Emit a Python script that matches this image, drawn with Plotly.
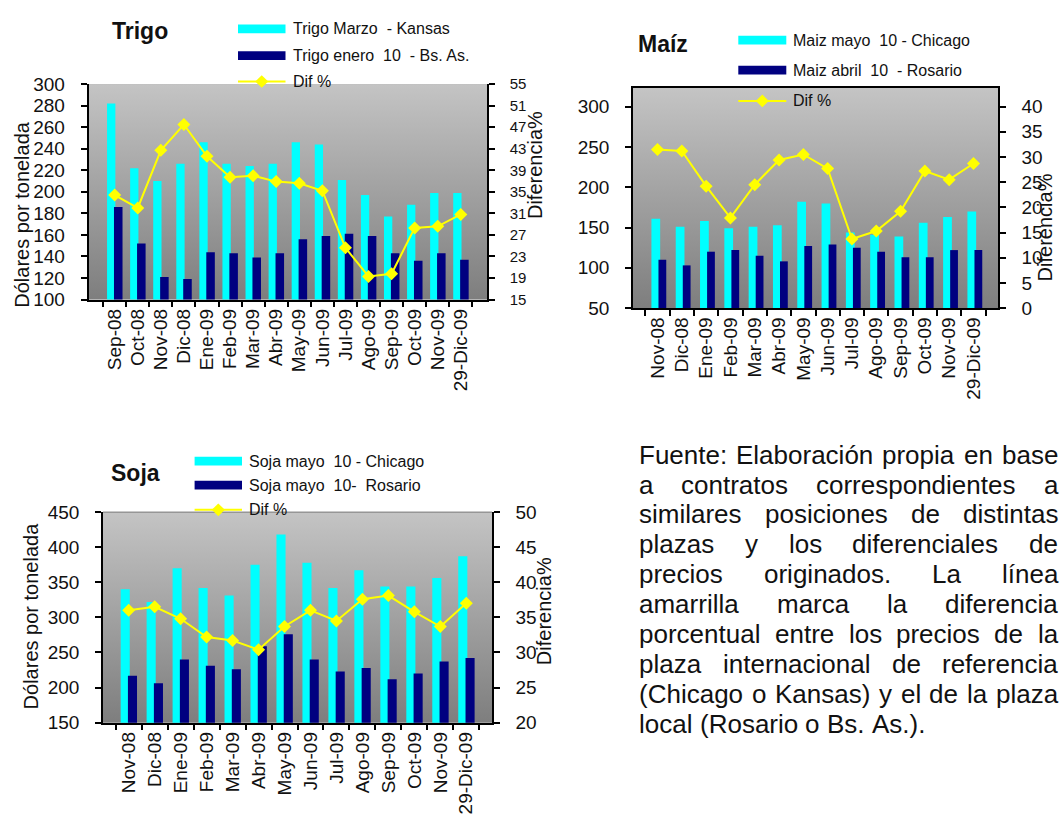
import base64
import plotly.graph_objects as go

# ---------------- data ----------------
meses_trigo = ["Sep-08", "Oct-08", "Nov-08", "Dic-08", "Ene-09", "Feb-09", "Mar-09", "Abr-09",
               "May-09", "Jun-09", "Jul-09", "Ago-09", "Sep-09", "Oct-09", "Nov-09", "29-Dic-09"]
trigo_kansas = [282, 222, 210, 226, 246, 226, 224, 226, 246, 244, 211, 197, 177, 188, 199, 199]
trigo_bsas = [186, 152, 121, 119, 144, 143, 139, 143, 156, 159, 161, 159, 143, 136, 143, 137]
trigo_dif = [34.4, 32.0, 42.7, 47.5, 41.6, 37.7, 38.0, 36.9, 36.6, 35.2, 24.6, 19.3, 19.8, 28.3, 28.6, 30.8]

meses_maiz = ["Nov-08", "Dic-08", "Ene-09", "Feb-09", "Mar-09", "Abr-09", "May-09", "Jun-09",
              "Jul-09", "Ago-09", "Sep-09", "Oct-09", "Nov-09", "29-Dic-09"]
maiz_chicago = [161, 151, 158, 149, 151, 153, 182, 180, 144, 141, 139, 156, 163, 170]
maiz_rosario = [110, 103, 120, 122, 115, 108, 127, 129, 125, 120, 113, 113, 122, 122]
maiz_dif = [31.5, 31.2, 24.2, 17.9, 24.5, 29.4, 30.5, 27.7, 13.7, 15.3, 19.2, 27.2, 25.5, 28.7]

meses_soja = ["Nov-08", "Dic-08", "Ene-09", "Feb-09", "Mar-09", "Abr-09", "May-09", "Jun-09",
              "Jul-09", "Ago-09", "Sep-09", "Oct-09", "Nov-09", "29-Dic-09"]
soja_chicago = [340, 322, 370, 342, 331, 375, 418, 378, 342, 367, 344, 344, 356, 387]
soja_rosario = [217, 206, 240, 231, 226, 259, 276, 240, 223, 228, 212, 220, 237, 242]
soja_dif = [36.0, 36.5, 34.8, 32.2, 31.7, 30.4, 33.7, 36.0, 34.5, 37.6, 38.1, 35.8, 33.7, 37.0]

nombres_trigo = ["Trigo Marzo\u00a0\u00a0- Kansas", "Trigo enero\u00a0\u00a010\u00a0\u00a0- Bs. As.", "Dif %"]
nombres_maiz = ["Maiz mayo\u00a0\u00a010 - Chicago", "Maiz abril\u00a0\u00a010\u00a0\u00a0- Rosario", "Dif %"]
nombres_soja = ["Soja mayo\u00a0\u00a010 - Chicago", "Soja mayo\u00a0\u00a010-\u00a0\u00a0Rosario", "Dif %"]

texto_lineas = [
    "Fuente: Elaboración propia en base",
    "a contratos correspondientes a",
    "similares posiciones de distintas",
    "plazas y los diferenciales de",
    "precios originados. La línea",
    "amarrilla marca la diferencia",
    "porcentual entre los precios de la",
    "plaza internacional de referencia",
    "(Chicago o Kansas) y el de la plaza",
    "local (Rosario o Bs. As.).",
]

# ---------------- helpers ----------------
W, H = 1061, 838
FONT = "Liberation Sans, Arial, sans-serif"
CYAN, NAVY, YEL = "#00FFFF", "#000080", "#FFFF00"
TXT = "#111111"


def px(x):
    return x / W


def py(y):
    return 1 - y / H


svg = ('<svg xmlns="http://www.w3.org/2000/svg" width="10" height="100" viewBox="0 0 10 100" '
       'preserveAspectRatio="none"><defs><linearGradient id="g" x1="0" y1="0" x2="0" y2="1">'
       '<stop offset="0" stop-color="#c4c4c4"/><stop offset="1" stop-color="#7e7e7e"/>'
       '</linearGradient></defs><rect width="10" height="100" fill="url(#g)"/></svg>')
GRAD = "data:image/svg+xml;base64," + base64.b64encode(svg.encode()).decode()

panels = [
    dict(cats=meses_trigo, a=trigo_kansas, b=trigo_bsas, d=trigo_dif, names=nombres_trigo,
         xa="x", ya="y", ya2="y2", xo="x4", yo="y7", yo2="y8", box=(88.5, 487, 76, 297),
         r1=[100, 300], d1=20, r2=[15, 55], d2=4, f2=15,
         off=(-0.33, 0.36, -0.03, 0.37), mirror=False, topline=None,
         title=("Trigo", 139.5, 22), leg=(238, 285.5, 291, [19.3, 46.7, 73.3]),
         ytl=("Dólares por tonelada", 22, 210), ytr=("Diferencia%", 535, 159)),
    dict(cats=meses_maiz, a=maiz_chicago, b=maiz_rosario, d=maiz_dif, names=nombres_maiz,
         xa="x2", ya="y3", ya2="y4", xo="x5", yo="y9", yo2="y10", box=(633, 998, 80, 305.7),
         r1=[50, 323.4], d1=50, r2=[0, 43.7], d2=5, f2=19,
         off=(-0.25, 0.36, 0.04, 0.32), mirror=True, topline=None,
         title=("Maíz", 662.7, 35), leg=(738.3, 786.3, 790.7, [31, 61.7, 93.3]),
         ytl=None, ytr=("Diferencia%", 1045, 223)),
    dict(cats=meses_soja, a=soja_chicago, b=soja_rosario, d=soja_dif, names=nombres_soja,
         xa="x3", ya="y5", ya2="y6", xo="x6", yo="y11", yo2="y12", box=(103, 492, 515, 731),
         r1=[150, 450], d1=50, r2=[20, 50], d2=5, f2=19,
         off=(-0.31, 0.35, -0.03, 0.35), mirror=False, topline="#7a7a7a",
         title=("Soja", 135.7, 475), leg=(194.6, 242, 247, [462.7, 487.3, 512.7]),
         ytl=("Dólares por tonelada", 31, 622), ytr=("Diferencia%", 543.6, 617)),
]

fig = go.Figure()
layout = dict(width=W, height=H, margin=dict(l=0, r=0, t=0, b=0), autosize=False,
              paper_bgcolor="white", plot_bgcolor="#a0a0a0", showlegend=False,
              barmode="overlay", font=dict(family=FONT, color=TXT))
images, shapes, annotations = [], [], []


def axname(ref):
    return ("xaxis" if ref[0] == "x" else "yaxis") + ref[1:]


TK = dict(ticklen=6, tickcolor="black", tickwidth=1.5)

for p in panels:
    o1, w1, o2, w2 = p["off"]
    fig.add_trace(go.Bar(x=p["cats"], y=p["a"], name=p["names"][0], marker=dict(color=CYAN, line=dict(width=0)),
                         offset=o1, width=w1, xaxis=p["xa"], yaxis=p["ya"]))
    fig.add_trace(go.Bar(x=p["cats"], y=p["b"], name=p["names"][1], marker=dict(color=NAVY, line=dict(width=0)),
                         offset=o2, width=w2, xaxis=p["xa"], yaxis=p["ya"]))
    fig.add_trace(go.Scatter(x=p["cats"], y=p["d"], name=p["names"][2], mode="lines+markers",
                             line=dict(color=YEL, width=2),
                             marker=dict(symbol="diamond", size=10, color=YEL, line=dict(width=0)),
                             xaxis=p["xa"], yaxis=p["ya2"]))
    x0, x1, y0, y1 = p["box"]
    n = len(p["cats"])
    layout[axname(p["xa"])] = dict(domain=[px(x0), px(x1)], anchor=p["ya"], type="category",
                                   tickangle=-90, tickfont=dict(size=19, color=TXT),
                                   showline=True, linecolor="black", linewidth=1.5, mirror=p["mirror"],
                                   ticks="outside", tickson="boundaries", **TK,
                                   showgrid=False, zeroline=False, fixedrange=True)
    layout[axname(p["ya"])] = dict(domain=[py(y1), py(y0)], anchor=p["xa"], range=p["r1"],
                                   tick0=p["r1"][0], dtick=p["d1"], tickfont=dict(size=19, color=TXT),
                                   showline=True, linecolor="black", linewidth=1.5,
                                   ticks="outside", **TK,
                                   ticklabelstandoff=12, showgrid=False, zeroline=False)
    layout[axname(p["ya2"])] = dict(overlaying=p["ya"], side="right", anchor=p["xa"], range=p["r2"],
                                    tick0=p["r2"][0], dtick=p["d2"], tickfont=dict(size=p["f2"], color=TXT),
                                    showline=True, linecolor="black", linewidth=1.5,
                                    ticks="outside", **TK,
                                    ticklabelstandoff=12, showgrid=False, zeroline=False)
    # inner halves of the crossing tick marks (tick-only overlay axes, no labels)
    layout[axname(p["xo"])] = dict(overlaying=p["xa"], anchor=p["ya"], side="bottom", type="linear",
                                   range=[-0.5, n - 0.5], tickmode="linear", tick0=-0.5, dtick=1,
                                   ticks="inside", **TK, showticklabels=False, showline=False,
                                   showgrid=False, zeroline=False)
    layout[axname(p["yo"])] = dict(overlaying=p["ya"], anchor=p["xa"], side="left", range=p["r1"],
                                   tick0=p["r1"][0], dtick=p["d1"], ticks="inside", **TK,
                                   showticklabels=False, showline=False, showgrid=False, zeroline=False)
    layout[axname(p["yo2"])] = dict(overlaying=p["ya"], anchor=p["xa"], side="right", range=p["r2"],
                                    tick0=p["r2"][0], dtick=p["d2"], ticks="inside", **TK,
                                    showticklabels=False, showline=False, showgrid=False, zeroline=False)
    images.append(dict(source=GRAD, xref=p["xa"] + " domain", yref=p["ya"] + " domain",
                       x=0, y=1, sizex=1, sizey=1, xanchor="left", yanchor="top",
                       sizing="stretch", layer="below"))
    if p["topline"]:
        shapes.append(dict(type="line", xref=p["xa"] + " domain", yref=p["ya"] + " domain",
                           x0=0, x1=1, y0=1, y1=1, line=dict(color=p["topline"], width=1)))
    # title
    t, tx, ty = p["title"]
    annotations.append(dict(text="<b>%s</b>" % t, x=px(tx), y=py(ty), xref="paper", yref="paper",
                            showarrow=False, xanchor="center", yanchor="middle",
                            font=dict(size=23, color="#111111", family=FONT)))
    # legend
    lx0, lx1, ltx, rows = p["leg"]
    for col, ry in zip([CYAN, NAVY], rows[:2]):
        shapes.append(dict(type="rect", xref="paper", yref="paper", x0=px(lx0), x1=px(lx1),
                           y0=py(ry + 4.5), y1=py(ry - 4.5), fillcolor=col, line=dict(width=0)))
    ry = rows[2]
    shapes.append(dict(type="line", xref="paper", yref="paper", x0=px(lx0), x1=px(lx1),
                       y0=py(ry), y1=py(ry), line=dict(color=YEL, width=2)))
    cx = (lx0 + lx1) / 2
    shapes.append(dict(type="path", xref="paper", yref="paper",
                       path="M %f,%f L %f,%f L %f,%f L %f,%f Z" % (
                           px(cx - 6.5), py(ry), px(cx), py(ry - 6.5), px(cx + 6.5), py(ry), px(cx), py(ry + 6.5)),
                       fillcolor=YEL, line=dict(width=0)))
    for name, ry in zip(p["names"], rows):
        annotations.append(dict(text=name, x=px(ltx), y=py(ry), xref="paper", yref="paper",
                                showarrow=False, xanchor="left", yanchor="middle",
                                font=dict(size=16, color=TXT, family=FONT)))
    # axis titles
    for spec in (p["ytl"], p["ytr"]):
        if spec:
            s, ax, ay = spec
            annotations.append(dict(text=s, x=px(ax), y=py(ay), xref="paper", yref="paper",
                                    showarrow=False, textangle=-90, xanchor="center", yanchor="middle",
                                    font=dict(size=20, color=TXT, family=FONT)))

# ---------------- justified text block ----------------
AW = {" ": 278, "(": 333, ")": 333, ".": 278, ":": 278,
      "a": 556, "b": 556, "c": 500, "d": 556, "e": 556, "f": 278, "g": 556, "h": 556, "i": 222,
      "j": 222, "k": 500, "l": 222, "m": 833, "n": 556, "o": 556, "p": 556, "q": 556, "r": 333,
      "s": 500, "t": 278, "u": 556, "v": 500, "w": 722, "x": 500, "y": 500, "z": 500,
      "ó": 556, "í": 278, "A": 667, "B": 667, "C": 722, "E": 667, "F": 611, "K": 667,
      "L": 556, "R": 722}
FS = 26
LEFT, RIGHT = 638, 1057


def tw(s):
    return sum(AW.get(ch, 556) for ch in s) * FS / 1000.0


for i, line in enumerate(texto_lineas):
    base = 465 + 30.7 * i
    words = line.split(" ")
    if i < len(texto_lineas) - 1 and len(words) > 1:
        gap = (RIGHT - LEFT - sum(tw(w) for w in words)) / (len(words) - 1)
    else:
        gap = tw(" ")
    x = LEFT
    for w in words:
        annotations.append(dict(text=w, x=px(x), y=py(base - 9), xref="paper", yref="paper",
                                showarrow=False, xanchor="left", yanchor="middle", borderpad=0,
                                font=dict(size=FS, color="#111111", family=FONT)))
        x += tw(w) + gap

layout["images"] = images
layout["shapes"] = shapes
layout["annotations"] = annotations
fig.update_layout(**layout)

fig.write_html("out.html", config={"displayModeBar": False},
               post_script="document.body.style.margin='0';")
